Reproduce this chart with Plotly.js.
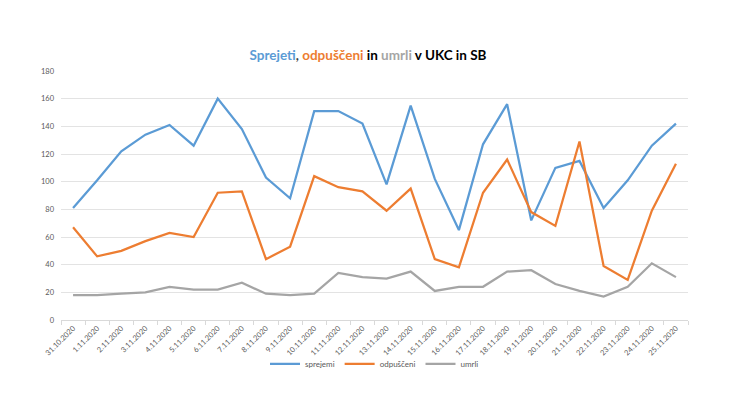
<!DOCTYPE html>
<html>
<head>
<meta charset="utf-8">
<script src="https://cdn.plot.ly/plotly-3.0.1.min.js"></script>
<style>html,body{margin:0;padding:0;background:#fff;}#chart{width:736px;height:414px;}</style>
</head>
<body>
<div id="chart"></div>
<script>
const dates = ["31.10.2020","1.11.2020","2.11.2020","3.11.2020","4.11.2020","5.11.2020","6.11.2020","7.11.2020","8.11.2020","9.11.2020","10.11.2020","11.11.2020","12.11.2020","13.11.2020","14.11.2020","15.11.2020","16.11.2020","17.11.2020","18.11.2020","19.11.2020","20.11.2020","21.11.2020","22.11.2020","23.11.2020","24.11.2020","25.11.2020"];
const sprejemi = [81,101,122,134,141,126,160,138,103,88,151,151,142,98,155,102,65,127,156,72,110,115,81,101,126,142];
const odpusceni = [67,46,50,57,63,60,92,93,44,53,104,96,93,79,95,44,38,92,116,78,68,129,39,29,79,113];
const umrli = [18,18,19,20,24,22,22,27,19,18,19,34,31,30,35,21,24,24,35,36,26,21,17,24,41,31];
const yTicks = [0,20,40,60,80,100,120,140,160,180];

const font = "Lato, 'Open Sans', sans-serif";
const traces = [
  {x: dates, y: sprejemi, name: "sprejemi", type: "scatter", mode: "lines", line: {color: "#5B9BD5", width: 2.25}},
  {x: dates, y: odpusceni, name: "odpuščeni", type: "scatter", mode: "lines", line: {color: "#ED7D31", width: 2.25}},
  {x: dates, y: umrli, name: "umrli", type: "scatter", mode: "lines", line: {color: "#A5A5A5", width: 2.25}}
];
const layout = {
  width: 736, height: 414,
  margin: {l: 61, r: 48, t: 71, b: 94},
  paper_bgcolor: "#fff", plot_bgcolor: "#fff",
  font: {family: font, color: "#595959", size: 8},
  title: {
    text: "<b><span style='color:#5B9BD5'>Sprejeti</span><span style='color:#404040'>, </span><span style='color:#ED7D31'>odpuščeni</span><span style='color:#000'> in </span><span style='color:#A5A5A5'>umrli</span><span style='color:#000'> v UKC in SB</span></b>",
    font: {family: "Lato, 'Open Sans', sans-serif", size: 13.5, color: "#000"},
    x: 0.5, xanchor: "center", y: 0.867, yanchor: "middle"
  },
  xaxis: {
    type: "category", range: [-0.5, dates.length - 0.5],
    tickangle: -45, tickfont: {size: 7.5, color: "#595959"},
    showgrid: false, showline: true, linecolor: "#D9D9D9", linewidth: 1,
    ticks: "outside", tickson: "boundaries", ticklen: 4, tickcolor: "#D9D9D9",
    zeroline: false, fixedrange: true
  },
  yaxis: {
    range: [0, 180], tickvals: yTicks, ticktext: yTicks.map(String),
    tickfont: {size: 7.5, color: "#595959"},
    showgrid: true, gridcolor: "#E3E3E3", gridwidth: 1,
    zeroline: false, showline: false, ticks: "", ticklabelstandoff: 6
  },
  showlegend: true,
  legend: {orientation: "h", x: 0.5, xanchor: "center", y: -0.176, yanchor: "middle",
           bgcolor: "rgba(0,0,0,0)",
           font: {size: 8, color: "#595959"}, itemwidth: 30, tracegroupgap: 0}
};
Plotly.newPlot("chart", traces, layout, {staticPlot: true, displayModeBar: false});
</script>
</body>
</html>
